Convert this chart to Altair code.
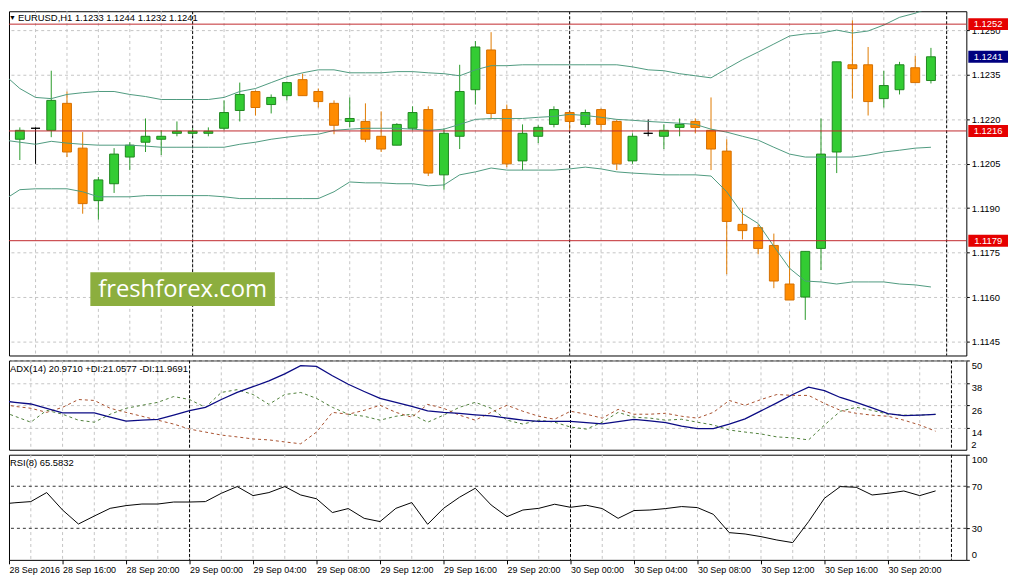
import json
import altair as alt
import pandas as pd

# ---------------- data (EURUSD H1, 28 Sep 2016 12:00 ... 30 Sep 2016 23:00) ----------------
opens = [1.12132, 1.12132, 1.12169, 1.12162, 1.12253, 1.12102, 1.11925, 1.11982, 1.12072, 1.12122,
         1.12132, 1.12152, 1.12152, 1.12152, 1.12169, 1.12229, 1.12293, 1.12249, 1.12279, 1.12333,
         1.12293, 1.12253, 1.12192, 1.12192, 1.12142, 1.12112, 1.12169, 1.12232, 1.12012, 1.12142,
         1.12299, 1.12433, 1.12232, 1.12059, 1.12142, 1.12182, 1.12222, 1.12182, 1.12232, 1.12192,
         1.12059, 1.12152, 1.12142, 1.12172, 1.12192, 1.12162, 1.12092, 1.11845, 1.11834, 1.11774,
         1.11644, 1.11600, 1.11764, 1.12089, 1.12383, 1.12383, 1.12269, 1.12299, 1.12373, 1.12330]
highs = [1.12149, 1.12172, 1.12172, 1.12363, 1.12293, 1.12156, 1.12005, 1.12102, 1.12122, 1.12202,
         1.12162, 1.12192, 1.12169, 1.12172, 1.12263, 1.12323, 1.12296, 1.12283, 1.12326, 1.12353,
         1.12303, 1.12263, 1.12273, 1.12253, 1.12226, 1.12186, 1.12243, 1.12243, 1.12169, 1.12383,
         1.12463, 1.12493, 1.12249, 1.12182, 1.12179, 1.12243, 1.12226, 1.12232, 1.12236, 1.12199,
         1.12152, 1.12199, 1.12182, 1.12202, 1.12202, 1.12273, 1.12132, 1.11901, 1.11845, 1.11814,
         1.11754, 1.11754, 1.12202, 1.12393, 1.12533, 1.12443, 1.12363, 1.12393, 1.12413, 1.12440]
lows = [1.12122, 1.12062, 1.12049, 1.12139, 1.12072, 1.11881, 1.11861, 1.11951, 1.12028, 1.12089,
        1.12079, 1.12142, 1.12145, 1.12142, 1.12162, 1.12192, 1.12212, 1.12219, 1.12263, 1.12279,
        1.12239, 1.12149, 1.12172, 1.12122, 1.12089, 1.12112, 1.12162, 1.12008, 1.11962, 1.12099,
        1.12249, 1.12199, 1.12038, 1.12028, 1.12119, 1.12172, 1.12162, 1.12172, 1.12162, 1.12028,
        1.12049, 1.12142, 1.12099, 1.12142, 1.12152, 1.12028, 1.11677, 1.11794, 1.11744, 1.11630,
        1.11590, 1.11523, 1.11691, 1.12018, 1.12269, 1.12212, 1.12239, 1.12283, 1.12323, 1.12320]
closes = [1.12142, 1.12162, 1.12169, 1.12263, 1.12089, 1.11915, 1.11995, 1.12082, 1.12112, 1.12142,
          1.12142, 1.12159, 1.12159, 1.12159, 1.12222, 1.12283, 1.12239, 1.12273, 1.12323, 1.12279,
          1.12259, 1.12179, 1.12202, 1.12132, 1.12099, 1.12182, 1.12222, 1.12018, 1.12152, 1.12293,
          1.12443, 1.12219, 1.12049, 1.12152, 1.12172, 1.12232, 1.12192, 1.12222, 1.12182, 1.12049,
          1.12142, 1.12152, 1.12162, 1.12182, 1.12172, 1.12099, 1.11855, 1.11824, 1.11764, 1.11654,
          1.11590, 1.11754, 1.12082, 1.12393, 1.12370, 1.12259, 1.12313, 1.12383, 1.12323, 1.12410]

bb_upper = [1.12350, 1.12303, 1.12273, 1.12269, 1.12283, 1.12289, 1.12293, 1.12293, 1.12283, 1.12276,
            1.12266, 1.12266, 1.12266, 1.12266, 1.12273, 1.12293, 1.12303, 1.12323, 1.12343, 1.12356,
            1.12366, 1.12366, 1.12356, 1.12356, 1.12356, 1.12360, 1.12360, 1.12356, 1.12353, 1.12346,
            1.12366, 1.12380, 1.12380, 1.12383, 1.12383, 1.12383, 1.12383, 1.12383, 1.12383, 1.12383,
            1.12376, 1.12366, 1.12363, 1.12353, 1.12346, 1.12339, 1.12370, 1.12400, 1.12426, 1.12453,
            1.12480, 1.12487, 1.12490, 1.12500, 1.12490, 1.12497, 1.12517, 1.12543, 1.12557, 1.12577]
bb_middle = [1.12129, 1.12122, 1.12115, 1.12125, 1.12119, 1.12115, 1.12112, 1.12112, 1.12112, 1.12109,
             1.12105, 1.12105, 1.12105, 1.12105, 1.12105, 1.12115, 1.12122, 1.12132, 1.12139, 1.12145,
             1.12149, 1.12162, 1.12166, 1.12169, 1.12169, 1.12169, 1.12166, 1.12162, 1.12166, 1.12182,
             1.12199, 1.12202, 1.12202, 1.12202, 1.12206, 1.12209, 1.12216, 1.12212, 1.12206, 1.12199,
             1.12196, 1.12192, 1.12189, 1.12186, 1.12182, 1.12166, 1.12156, 1.12142, 1.12129, 1.12105,
             1.12082, 1.12072, 1.12072, 1.12072, 1.12072, 1.12079, 1.12089, 1.12095, 1.12102, 1.12105]
bb_lower = [1.11928, 1.11962, 1.11965, 1.11965, 1.11965, 1.11955, 1.11938, 1.11938, 1.11938, 1.11942,
            1.11942, 1.11942, 1.11942, 1.11942, 1.11938, 1.11932, 1.11932, 1.11932, 1.11932, 1.11932,
            1.11932, 1.11955, 1.11988, 1.11985, 1.11985, 1.11982, 1.11982, 1.11975, 1.11978, 1.12012,
            1.12022, 1.12035, 1.12028, 1.12028, 1.12028, 1.12028, 1.12032, 1.12038, 1.12032, 1.12022,
            1.12018, 1.12015, 1.12012, 1.12012, 1.12012, 1.12008, 1.11955, 1.11881, 1.11848, 1.11771,
            1.11697, 1.11654, 1.11651, 1.11644, 1.11651, 1.11651, 1.11651, 1.11644, 1.11641, 1.11634]

adx_main = [28.5, 27.5, 26.6, 24.3, 21.8, 21.8, 21.8, 19.5, 17.4, 17.9,
            18.3, 20.6, 23.0, 24.8, 29.0, 32.8, 35.9, 39.0, 42.8, 47.2,
            46.8, 41.8, 37.2, 33.3, 29.6, 27.5, 25.3, 22.9, 22.1, 21.5,
            20.8, 20.2, 19.0, 17.9, 17.2, 17.2, 17.2, 16.6, 15.9, 17.1,
            18.3, 17.5, 16.6, 14.7, 13.3, 13.3, 15.8, 18.6, 22.9, 27.2,
            31.7, 35.7, 33.8, 30.1, 27.5, 24.5, 21.4, 20.4, 20.6, 20.9710]
plus_di = [23.2, 20.0, 16.8, 23.2, 21.1, 17.9, 16.8, 21.1, 24.3, 25.9,
           27.5, 30.6, 29.0, 24.8, 32.8, 34.3, 31.7, 26.4, 31.7, 32.8,
           29.6, 24.8, 21.1, 20.0, 17.9, 20.0, 21.1, 16.8, 20.6, 24.8,
           27.5, 24.3, 17.9, 15.8, 17.9, 16.8, 14.2, 13.1, 16.8, 22.1,
           19.5, 19.0, 17.9, 18.4, 16.8, 15.3, 12.6, 11.5, 10.5, 8.9,
           8.4, 7.3, 15.3, 22.7, 24.8, 23.2, 21.1, 20.6, 20.6, 21.0577]
minus_di = [26.9, 25.3, 24.3, 22.1, 24.8, 29.0, 28.5, 24.3, 22.1, 20.0,
            17.9, 15.8, 13.1, 11.5, 9.9, 8.9, 7.8, 7.3, 6.2, 5.2,
            11.5, 22.1, 21.1, 23.2, 25.9, 22.1, 19.5, 26.4, 24.3, 20.6,
            17.9, 22.1, 25.9, 22.7, 20.0, 18.4, 22.7, 21.1, 19.0, 23.7,
            21.1, 21.1, 21.6, 20.0, 19.0, 22.1, 28.5, 25.9, 29.0, 31.7,
            31.2, 31.2, 26.9, 23.2, 21.6, 20.6, 20.0, 17.9, 15.3, 11.9691]
rsi_vals = [52.9, 54.3, 55.4, 64.0, 47.4, 34.1, 41.7, 49.0, 51.6, 53.1,
            53.1, 55.0, 55.0, 55.4, 63.3, 69.7, 61.1, 64.0, 69.7, 61.7,
            58.1, 45.0, 48.8, 39.5, 36.4, 49.0, 54.5, 33.8, 49.0, 59.5,
            68.1, 52.2, 41.1, 47.4, 49.0, 52.9, 50.0, 51.9, 48.8, 39.5,
            46.9, 47.4, 48.8, 50.7, 49.7, 43.3, 25.9, 24.6, 22.1, 18.9,
            16.4, 36.4, 58.6, 69.7, 69.0, 61.7, 63.3, 65.5, 61.1, 65.5832]

level_prices = [1.1252, 1.1216, 1.1179]
price_ticks = [1.1145, 1.1160, 1.1175, 1.1190, 1.1205, 1.1220, 1.1235, 1.1250]
adx_ticks = [14, 26, 38, 50]
adx_bottom_label = "2"
rsi_ticks = [0, 30, 70, 100]
rsi_levels = [30, 70]
day_breaks = [12, 36, 60]
grid_hours = list(range(2, 61, 2))
time_tick_vals = [0.625, 4, 8, 12, 16, 20, 24, 28, 32, 36, 40, 44, 48, 52, 56]
time_tick_labels = ["28 Sep 2016", "28 Sep 16:00", "28 Sep 20:00", "29 Sep 00:00", "29 Sep 04:00",
                    "29 Sep 08:00", "29 Sep 12:00", "29 Sep 16:00", "29 Sep 20:00", "30 Sep 00:00",
                    "30 Sep 04:00", "30 Sep 08:00", "30 Sep 12:00", "30 Sep 16:00", "30 Sep 20:00"]

# ---------------- tables ----------------
n = len(opens)
hours = list(range(n))
candles = pd.DataFrame({"hour": hours, "open": opens, "high": highs, "low": lows, "close": closes})
candles["kind"] = ["up" if c > o else ("down" if c < o else "doji") for o, c in zip(opens, closes)]
bands = pd.DataFrame({"hour": hours, "upper": bb_upper, "middle": bb_middle, "lower": bb_lower})
adx_df = pd.DataFrame({"hour": hours, "adx": adx_main, "pdi": plus_di, "mdi": minus_di})
rsi_df = pd.DataFrame({"hour": hours, "rsi": rsi_vals})
grid_df = pd.DataFrame({"hour": grid_hours})
days_df = pd.DataFrame({"hour": day_breaks})

FONT = "Liberation Sans"
FS = 9.5
GRID = "#c4c4c4"
W = 965
H_MAIN, H_ADX, H_RSI = 347, 90, 106

xs = alt.Scale(domain=[0.625, 60.9375], nice=False, zero=False)


def xenc(axis=None):
    if axis is None:
        return alt.X("hour:Q", scale=xs, axis=None)
    return alt.X("hour:Q", scale=xs, axis=axis)


def vgrid(axis=None):
    return alt.Chart(grid_df).mark_rule(color=GRID, strokeDash=[3, 3], strokeWidth=1).encode(x=xenc(axis))


def dayrules(axis=None):
    return alt.Chart(days_df).mark_rule(color="black", strokeDash=[3, 2], strokeWidth=1).encode(x=xenc(axis))


def label_text(txt, x, y, size=FS, color="black", font=FONT, align="left"):
    return alt.Chart(pd.DataFrame({"t": [txt]})).mark_text(
        align=align, baseline="middle", font=font, fontSize=size, color=color
    ).encode(x=alt.value(x), y=alt.value(y), text="t:N")


# ---------------- main price panel ----------------
ys_main = alt.Scale(domain=[1.11403, 1.125635], nice=False, zero=False)
yaxis_main = alt.Axis(orient="right", values=price_ticks, format=".4f", grid=True, gridDash=[3, 3],
                      gridColor=GRID, domain=False, tickSize=3, labelPadding=2, labelOverlap=False, title=None)


def ymain(field):
    return alt.Y(f"{field}:Q", scale=ys_main, axis=yaxis_main)


kinds = ["up", "down", "doji"]
wick = alt.Chart(candles).mark_rule(strokeWidth=1, clip=True).encode(
    x=xenc(), y=ymain("low"), y2="high:Q",
    color=alt.Color("kind:N", scale=alt.Scale(domain=kinds, range=["#2a9a2a", "#e07a00", "#000000"]), legend=None),
)
body = alt.Chart(candles).mark_bar(size=9, strokeWidth=1, clip=True).encode(
    x=xenc(), y=ymain("open"), y2="close:Q",
    fill=alt.Fill("kind:N", scale=alt.Scale(domain=kinds, range=["#33cc33", "#ff8c00", "#000000"]), legend=None),
    stroke=alt.Stroke("kind:N", scale=alt.Scale(domain=kinds, range=["#1f861f", "#d46f00", "#000000"]), legend=None),
)
bb = alt.Chart(bands).transform_fold(["upper", "middle", "lower"], as_=["band", "price"]).mark_line(
    color="#4e9a7e", strokeWidth=1, clip=True
).encode(x=xenc(), y=ymain("price"), detail="band:N")

levels_df = pd.DataFrame({"price": level_prices})
levels_df["label"] = [f"{p:.4f}" for p in level_prices]
last_df = pd.DataFrame({"price": [closes[-1]], "label": [f"{closes[-1]:.4f}"]})

hlines = alt.Chart(levels_df).mark_rule(color="#c0282d", strokeWidth=1).encode(y=ymain("price"))


def price_box(df, fill):
    rect = alt.Chart(df).transform_calculate(
        top="datum.price + 0.0002", bot="datum.price - 0.0002"
    ).mark_rect(fill=fill).encode(x=alt.value(967), x2=alt.value(1007), y=ymain("top"), y2="bot:Q")
    txt = alt.Chart(df).mark_text(color="white", font=FONT, fontSize=FS, align="center", baseline="middle").encode(
        x=alt.value(987), y=ymain("price"), text="label:N")
    return rect + txt


title_main = f"EURUSD,H1  {opens[-1]:.4f} {highs[-1]:.4f} {lows[-1]:.4f} {closes[-1]:.4f}"
wm_box = alt.Chart(pd.DataFrame({"t": ["freshforex.com"]})).mark_rect(color="#8cae3e").encode(
    x=alt.value(82), x2=alt.value(268), y=alt.value(263), y2=alt.value(297))
wm_text = label_text("freshforex.com", 175, 281, size=24, color="white", font="Open Sans", align="center")

main = alt.layer(
    vgrid(), dayrules(), wick, body, bb, hlines,
    price_box(levels_df, "#e50000"), price_box(last_df, "#00007f"),
    label_text("▼", 0, 7, size=7), label_text(title_main, 9, 7),
    wm_box, wm_text,
).properties(width=W, height=H_MAIN)

# ---------------- ADX panel ----------------
ys_adx = alt.Scale(domain=[2, 50], nice=False, zero=False)
yaxis_adx = alt.Axis(orient="right", values=adx_ticks, grid=True, gridDash=[3, 3], gridColor=GRID,
                     domain=False, tickSize=3, labelPadding=2, labelBaseline="top", labelOverlap=False,
                     title=None)


def yadx(field):
    return alt.Y(f"{field}:Q", scale=ys_adx, axis=yaxis_adx)


adx_line = alt.Chart(adx_df).mark_line(color="#0b0b84", strokeWidth=1.3, clip=True).encode(x=xenc(), y=yadx("adx"))
pdi_line = alt.Chart(adx_df).mark_line(color="#4f7f3a", strokeWidth=1, strokeDash=[3, 3], clip=True).encode(x=xenc(), y=yadx("pdi"))
mdi_line = alt.Chart(adx_df).mark_line(color="#a8502e", strokeWidth=1, strokeDash=[3, 3], clip=True).encode(x=xenc(), y=yadx("mdi"))
title_adx = f"ADX(14) {adx_main[-1]:.4f} +DI:{plus_di[-1]:.4f} -DI:{minus_di[-1]:.4f}"

adx = alt.layer(
    vgrid(), dayrules(), pdi_line, mdi_line, adx_line, label_text(title_adx, 1, 9),
    label_text(adx_bottom_label, W + 5, H_ADX - 5),
).properties(width=W, height=H_ADX)

# ---------------- RSI panel ----------------
label_expr = f"{json.dumps(time_tick_labels)}[indexof({json.dumps(time_tick_vals)}, datum.value)]"
xaxis_rsi = alt.Axis(values=time_tick_vals, labelExpr=label_expr, labelAlign="left", labelFlush=False,
                     labelOverlap=False, labelFontSize=9, tickSize=4, domain=False, grid=False,
                     labelPadding=2, title=None)
ys_rsi = alt.Scale(domain=[0, 100], nice=False, zero=False)
yaxis_rsi = alt.Axis(orient="right", values=rsi_ticks, grid=False, domain=False, tickSize=3,
                     labelPadding=2, labelFlush=True, labelOverlap=False, title=None)

rsi_levels_df = pd.DataFrame({"lvl": rsi_levels})
rsi_lv = alt.Chart(rsi_levels_df).mark_rule(color="#333333", strokeDash=[3, 3], strokeWidth=1).encode(
    y=alt.Y("lvl:Q", scale=ys_rsi, axis=yaxis_rsi))
rsi_line = alt.Chart(rsi_df).mark_line(color="black", strokeWidth=1, clip=True).encode(
    x=xenc(xaxis_rsi), y=alt.Y("rsi:Q", scale=ys_rsi, axis=yaxis_rsi))

rsi = alt.layer(
    vgrid(xaxis_rsi), dayrules(xaxis_rsi), rsi_lv, rsi_line, label_text(f"RSI(8) {rsi_vals[-1]:.4f}", 1, 8)
).properties(width=W, height=H_RSI)

chart = alt.vconcat(main, adx, rsi, spacing=3).properties(
    padding={"left": 0, "right": 0, "top": 0, "bottom": 0}
).configure_view(stroke="black", strokeWidth=1).configure_axis(
    labelFont=FONT, labelFontSize=FS, labelColor="black", tickColor="black"
)

chart.save("out.html", embed_options={"renderer": "svg", "actions": False})
